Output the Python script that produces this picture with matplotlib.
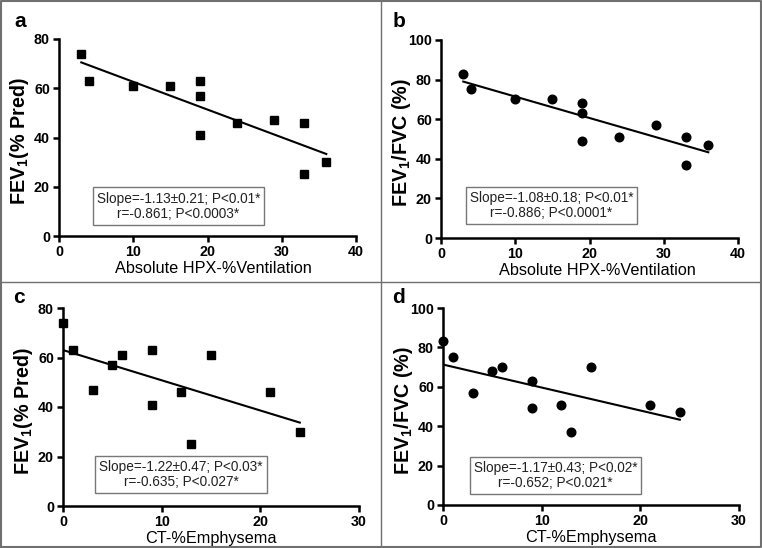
import matplotlib
matplotlib.use('Agg')
import matplotlib.pyplot as plt
from matplotlib.lines import Line2D

plt.rcParams['font.family'] = ['Liberation Sans', 'DejaVu Sans']
plt.rcParams['mathtext.fontset'] = 'custom'
plt.rcParams['mathtext.rm'] = 'Liberation Sans'
plt.rcParams['mathtext.bf'] = 'Liberation Sans:bold'

# HPX-%ventilation panels (a, b)
hpx_x = [3, 4, 10, 15, 19, 19, 19, 24, 29, 33, 33, 36]
hpx_fev1 = [74, 63, 61, 61, 63, 57, 41, 46, 47, 46, 25, 30]
hpx_ratio = [83, 75, 70, 70, 68, 63, 49, 51, 57, 51, 37, 47]
# CT-%emphysema panels (c, d)
ct_x = [0, 1, 3, 5, 6, 9, 9, 12, 13, 15, 21, 24]
ct_fev1 = [74, 63, 47, 57, 61, 63, 41, 46, 25, 61, 46, 30]
ct_ratio = [83, 75, 57, 68, 70, 63, 49, 51, 37, 70, 51, 47]

# regression line end points
fit_a = ([3, 36], [70.5, 33.3])
fit_b = ([3, 36], [79.0, 43.3])
fit_c = ([0, 24], [63.0, 33.7])
fit_d = ([0, 24], [71.3, 43.3])

stats_a = 'Slope=-1.13\u00b10.21; P<0.01*\nr=-0.861; P<0.0003*'
stats_b = 'Slope=-1.08\u00b10.18; P<0.01*\nr=-0.886; P<0.0001*'
stats_c = 'Slope=-1.22\u00b10.47; P<0.03*\nr=-0.635; P<0.027*'
stats_d = 'Slope=-1.17\u00b10.43; P<0.02*\nr=-0.652; P<0.021*'

W, H = 762, 548
fig = plt.figure(figsize=(W / 100, H / 100), dpi=100)


def px_axes(l, r, t, b):
    return fig.add_axes([l / W, 1 - b / H, (r - l) / W, (b - t) / H])


def panel(ax, x, y, fit, marker, xmax, ymax, ylabel, xlabel, stats, bx, by, xlx):
    ax.plot(x, y, linestyle='none', marker=marker, color='black', ms=6.2, clip_on=False, zorder=3)
    ax.plot(fit[0], fit[1], color='black', lw=1.5)
    ax.set_xlim(0, xmax)
    ax.set_ylim(0, ymax)
    xt = list(range(0, xmax + 1, 10))
    yt = list(range(0, ymax + 1, 20))
    ax.set_xticks(xt, [str(v) for v in xt], fontweight='bold')
    ax.set_yticks(yt, [str(v) for v in yt], fontweight='bold')
    for s in ['top', 'right']:
        ax.spines[s].set_visible(False)
    for s in ['left', 'bottom']:
        ax.spines[s].set_linewidth(1.8)
    ax.tick_params(width=1.8, length=4, labelsize=10.3, pad=2.5)
    ax.set_ylabel(ylabel, fontsize=14.2, fontweight='bold', va='center')
    ax.yaxis.set_label_coords(-0.134, 0.48)
    ax.set_xlabel(xlabel, fontsize=11.7, va='center')
    ax.xaxis.set_label_coords(xlx, -0.166)
    ax.text(bx, by, stats, transform=ax.transAxes, ha='center', va='center',
            multialignment='center', fontsize=9.8, color='#222222', linespacing=1.1,
            bbox=dict(boxstyle='square,pad=0.3', fc='white', ec='#777777', lw=1))


ax_a = px_axes(59, 356, 39, 236)
ax_b = px_axes(441, 738, 40, 238)
ax_c = px_axes(63, 359, 308, 506)
ax_d = px_axes(443, 739, 308, 505)

fev1_lab = 'FEV$_\\mathbf{1}$(% Pred)'
ratio_lab = 'FEV$_\\mathbf{1}$/FVC (%)'
panel(ax_a, hpx_x, hpx_fev1, fit_a, 's', 40, 80, fev1_lab, 'Absolute HPX-%Ventilation', stats_a, 0.402, 0.152, 0.52)
panel(ax_b, hpx_x, hpx_ratio, fit_b, 'o', 40, 100, ratio_lab, 'Absolute HPX-%Ventilation', stats_b, 0.372, 0.164, 0.527)
panel(ax_c, ct_x, ct_fev1, fit_c, 's', 30, 80, fev1_lab, 'CT-%Emphysema', stats_c, 0.399, 0.159, 0.5)
panel(ax_d, ct_x, ct_ratio, fit_d, 'o', 30, 100, ratio_lab, 'CT-%Emphysema', stats_d, 0.38, 0.15, 0.5)

# panel letters
for lx, ly, letter in [(20.5, 27, 'a'), (399, 27, 'b'), (19, 303, 'c'), (399, 303, 'd')]:
    fig.text(lx / W, 1 - ly / H, letter, fontsize=15, fontweight='bold', ha='center', va='baseline')

# frame lines between panels
gc = '#707070'
fig.add_artist(Line2D([381 / W, 381 / W], [0, 1], color=gc, lw=1))
fig.add_artist(Line2D([0, 1], [1 - 282 / H, 1 - 282 / H], color=gc, lw=1))
fig.add_artist(Line2D([0.001, 0.999, 0.999, 0.001, 0.001], [0.001, 0.001, 0.999, 0.999, 0.001], color=gc, lw=1.5))

fig.savefig('out.png', dpi=100)
